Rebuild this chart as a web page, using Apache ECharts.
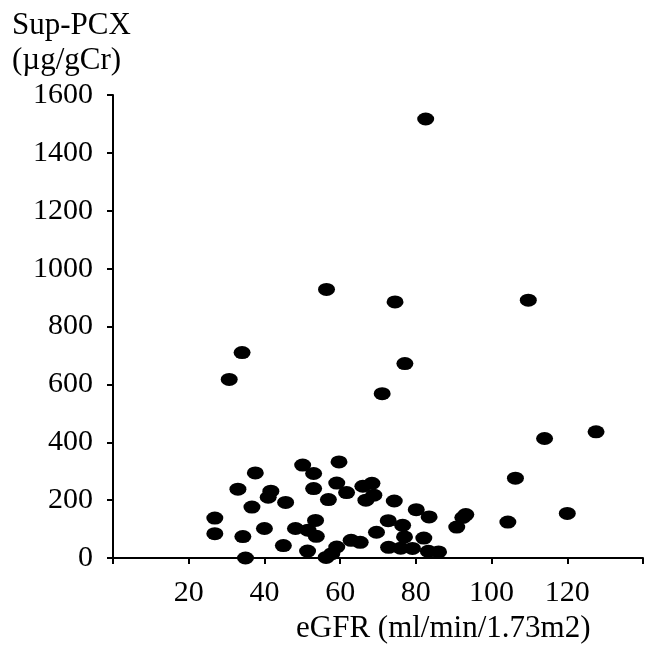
<!DOCTYPE html>
<html>
<head>
<meta charset="utf-8">
<script src="https://cdn.jsdelivr.net/npm/echarts@6/dist/echarts.min.js"></script>
<style>html,body{margin:0;padding:0;background:#fff;}#c{width:646px;height:646px;}</style>
</head>
<body>
<div id="c"></div>
<script>
var egfr = [82.6,56.4,74.5,109.7,34.1,30.7,77.1,71.1,127.6,114.0,106.3,120.0,104.3,93.2,92.4,90.8,86.0,
  26.9,26.9,33.0,37.6,36.7,34.3,40.0,41.7,41.0,35.0,45.6,45.0,48.2,50.1,53.0,53.0,51.5,53.5,53.7,51.4,
  56.9,56.3,59.7,59.1,61.7,66.0,68.4,66.8,68.9,74.3,80.1,83.5,69.6,62.9,65.3,59.1,57.8,72.7,76.5,77.0,
  72.8,76.0,79.1,82.1,83.3];
var supPCX = [1517,928,885,891,710,617,672,568,436,413,276,154,124,150,140,107,21,
  138,84,238,294,176,74,102,231,210,0,192,43,102,321,292,240,96,130,75,24,
  202,2,332,259,226,248,258,200,217,197,167,142,89,61,54,38,15,129,113,73,
  37,34,33,69,23];
var yAxisTitle = 'Sup-PCX\n(µg/gCr)';
var xAxisTitle = 'eGFR (ml/min/1.73m2)';

var FONT = "'Liberation Serif','Times New Roman',serif";
var points = egfr.map(function (x, i) { return [x, supPCX[i]]; });

var chart = echarts.init(document.getElementById('c'));
chart.setOption({
  animation: false,
  backgroundColor: '#fff',
  title: [
    { text: yAxisTitle, left: 12, top: 8, padding: 0,
      textStyle: { fontFamily: FONT, fontSize: 31, fontWeight: 'normal', color: '#000', lineHeight: 35 } },
    { text: xAxisTitle, left: 296, top: 613, padding: 0,
      textStyle: { fontFamily: FONT, fontSize: 31, fontWeight: 'normal', color: '#000' } }
  ],
  grid: { left: 113, top: 95, width: 536, height: 463, containLabel: false },
  xAxis: {
    type: 'value', min: 0, max: 140, interval: 20,
    splitLine: { show: false },
    axisLine: { onZero: false, lineStyle: { color: '#000', width: 2 } },
    axisTick: { show: true, length: 6, lineStyle: { color: '#000', width: 2 } },
    axisLabel: {
      margin: 20, color: '#000', fontFamily: FONT, fontSize: 30,
      formatter: function (v) { return (v === 0 || v === 140) ? '' : String(v); }
    }
  },
  yAxis: {
    type: 'value', min: 0, max: 1600, interval: 200,
    splitLine: { show: false },
    axisLine: { show: true, onZero: false, lineStyle: { color: '#000', width: 2 } },
    axisTick: { show: true, length: 6, lineStyle: { color: '#000', width: 2 } },
    axisLabel: { margin: 20, color: '#000', fontFamily: FONT, fontSize: 30,
      formatter: function (v) { return String(v); } }
  },
  series: [{
    type: 'scatter',
    clip: false,
    data: points,
    symbol: 'path://M0,5A5,5 0 1 1 10,5A5,5 0 1 1 0,5Z',
    symbolSize: [17, 13],
    itemStyle: { color: '#000', opacity: 1 }
  }]
});
</script>
</body>
</html>
